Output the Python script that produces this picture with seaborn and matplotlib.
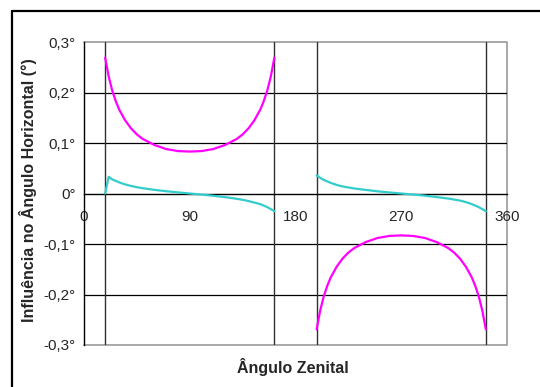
import numpy as np
import pandas as pd
import matplotlib
matplotlib.use('Agg')
import matplotlib.pyplot as plt
import seaborn as sns
from matplotlib.lines import Line2D

# Dados (ângulo zenital em graus, influência em graus)
z_esq = [18, 21, 24, 27, 30, 35, 40, 45, 50, 60, 70, 80, 90,
         100, 110, 120, 130, 135, 140, 145, 150, 153, 156, 159, 162]
z_dir = [198, 201, 204, 207, 210, 215, 220, 225, 230, 240, 250, 260, 270,
         280, 290, 300, 310, 315, 320, 325, 330, 333, 336, 339, 342]

rosa_esq = [0.269, 0.232, 0.204, 0.183, 0.166, 0.145, 0.129, 0.117, 0.108, 0.096, 0.088, 0.084, 0.083,
            0.084, 0.088, 0.096, 0.108, 0.117, 0.129, 0.145, 0.166, 0.183, 0.204, 0.232, 0.269]
rosa_dir = [-0.269, -0.232, -0.204, -0.183, -0.166, -0.145, -0.129, -0.117, -0.108, -0.096, -0.088, -0.084, -0.083,
            -0.084, -0.088, -0.096, -0.108, -0.117, -0.129, -0.145, -0.166, -0.183, -0.204, -0.232, -0.269]

verde_esq = [0.0, 0.033, 0.028, 0.025, 0.022, 0.018, 0.015, 0.0125, 0.0105, 0.0072, 0.0045, 0.0022, 0.0,
             -0.0022, -0.0045, -0.0072, -0.0105, -0.0125, -0.015, -0.018, -0.021, -0.024, -0.027, -0.031, -0.035]
verde_dir = [0.036, 0.031, 0.027, 0.024, 0.021, 0.017, 0.014, 0.012, 0.010, 0.007, 0.0043, 0.002, 0.0,
             -0.002, -0.0043, -0.007, -0.010, -0.012, -0.014, -0.017, -0.021, -0.024, -0.027, -0.031, -0.035]

linhas_verticais = [18, 162, 198, 342]
xticks = [0, 90, 180, 270, 360]
yticks = [-0.3, -0.2, -0.1, 0, 0.1, 0.2, 0.3]
ylabels = ['-0,3°', '-0,2°', '-0,1°', '0°', '0,1°', '0,2°', '0,3°']

sns.set_style('white')
plt.rcParams['font.family'] = ['Liberation Sans', 'DejaVu Sans']

fig = plt.figure(figsize=(5.4, 3.87), dpi=100)
ax = fig.add_axes([84 / 540, 1 - 345 / 387, (507 - 84) / 540, (345 - 42) / 387])

# Linhas de grade
for y in [-0.2, -0.1, 0.1, 0.2]:
    ax.axhline(y, color='black', lw=0.9, zorder=1)
for x in linhas_verticais:
    ax.axvline(x, color='#303030', lw=1.0, zorder=1)

# Séries
for zs, vs in [(z_esq, rosa_esq), (z_dir, rosa_dir)]:
    sns.lineplot(x=zs, y=vs, ax=ax, color='#FF00FF', lw=1.6, zorder=3)
for zs, vs in [(z_esq, verde_esq), (z_dir, verde_dir)]:
    sns.lineplot(x=zs, y=vs, ax=ax, color='#33CCCC', lw=1.6, zorder=3)

# Eixo x passa pelo zero
ax.spines['bottom'].set_position(('data', 0))
ax.spines['bottom'].set_color('black')
ax.spines['bottom'].set_linewidth(1.0)
ax.spines['bottom'].set_zorder(2)
ax.spines['left'].set_color('black')
ax.spines['left'].set_linewidth(1.0)
for s in ['top', 'right']:
    ax.spines[s].set_visible(False)

ax.set_xlim(0, 360)
ax.set_ylim(-0.3, 0.3)
ax.set_xticks(xticks)
ax.set_xticklabels([str(v) for v in xticks])
ax.set_yticks(yticks)
ax.set_yticklabels(ylabels)

# borda cinza da área de plotagem
ax.plot([0, 360, 360, 0], [0.3, 0.3, -0.3, -0.3], color='#999999', lw=1.2,
        clip_on=False, zorder=0)

ax.tick_params(axis='x', direction='out', length=3, width=0.8, pad=9, color='black', labelsize=11)
ax.tick_params(axis='y', direction='out', length=3, width=0.8, pad=3, color='black', labelsize=11)

ax.set_xlabel('')
fig.text(293 / 540, 1 - 367 / 387, 'Ângulo Zenital', ha='center', va='center',
         fontsize=11.5, fontweight='bold')
fig.text(28 / 540, 1 - 190 / 387, 'Influência no Ângulo Horizontal (°)', ha='center', va='center',
         rotation=90, fontsize=11.5, fontweight='bold')

# Borda externa do gráfico
fig.add_artist(Line2D([12 / 540, 12 / 540], [0, 1 - 11 / 387], transform=fig.transFigure,
                      color='black', lw=1.6))
fig.add_artist(Line2D([12 / 540, 1], [1 - 11 / 387, 1 - 11 / 387], transform=fig.transFigure,
                      color='black', lw=1.6))

fig.savefig('out.png', dpi=100)
